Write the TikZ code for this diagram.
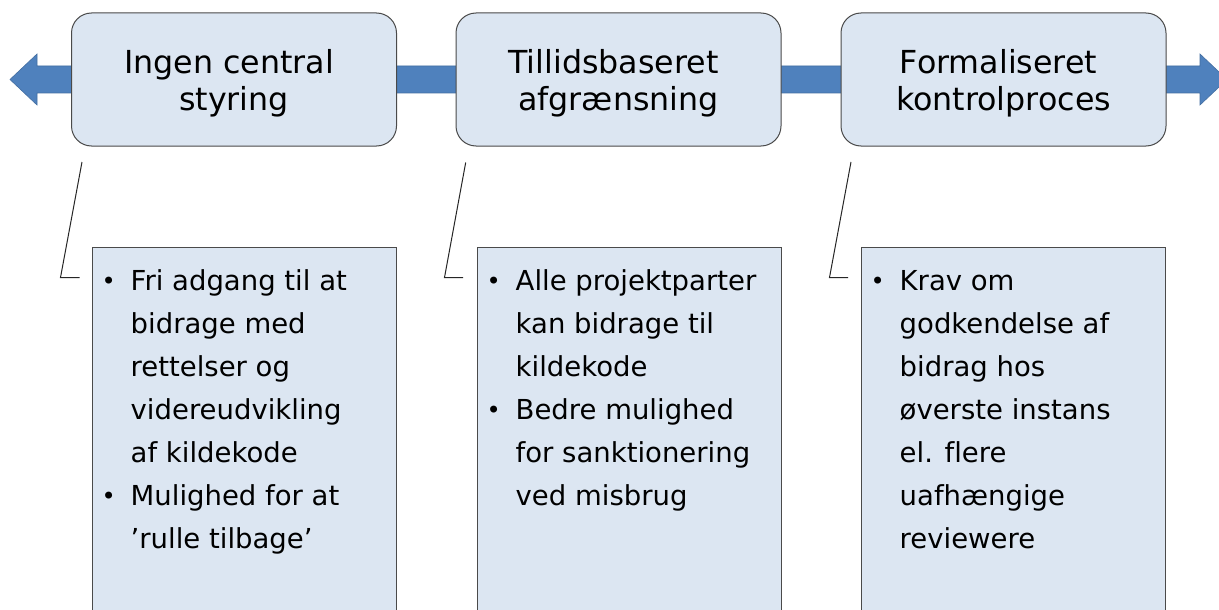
\documentclass[tikz,border=0pt]{standalone}
\usepackage{fontspec}
\setmainfont[Ligatures={NoCommon}]{DejaVu Sans}
\definecolor{boxfill}{HTML}{DCE6F2}
\definecolor{arrowblue}{HTML}{4F81BD}
\definecolor{boxline}{HTML}{4A4A4A}
\newcommand\mybul{\makebox[16.2pt][l]{\fontsize{24}{43}\selectfont\raisebox{1.3pt}{•}}}
\tikzset{
  bandarrow/.style={fill=arrowblue, draw=arrowblue!85!black, line width=0.6pt},
  topbox/.style={draw=boxline, line width=1pt, fill=boxfill, rounded corners=20pt,
    minimum width=325pt, minimum height=133pt, inner sep=0pt,
    text height=31pt, text depth=42pt, font=\fontsize{31.7}{37}\selectfont},
  botbox/.style={draw=boxline, line width=1pt, fill=boxfill, anchor=north west,
    inner xsep=9pt, inner ysep=0pt, text height=43pt, text depth=400pt,
    font=\fontsize{27.5}{43}\selectfont},
  conn/.style={draw=black!85, line width=1pt}
}
\begin{document}
\begin{tikzpicture}[x=1pt,y=-1pt]
\clip (0,0) rectangle (1219,610);
\fill[white] (0,0) rectangle (1219,610);
% band arrow
\path[bandarrow] (10,79.5) -- (37,54) -- (37,66) -- (1200,66) -- (1200,54) -- (1227,79.5)
  -- (1200,105) -- (1200,93) -- (37,93) -- (37,105) -- cycle;
% top boxes
\node[topbox] (t1) at (234,79.5) {\begin{tabular}[t]{@{}c@{}}Ingen central\kern10pt\\styring\end{tabular}};
\node[topbox] (t2) at (618.5,79.5) {\begin{tabular}[t]{@{}c@{}}Tillidsbaseret\kern10pt\\afgrænsning\end{tabular}};
\node[topbox] (t3) at (1003.5,79.5) {\begin{tabular}[t]{@{}c@{}}Formaliseret\kern10pt\\kontrolproces\end{tabular}};
% bottom boxes
\node[botbox] (b1) at (92,247) {\makebox[286pt][l]{\begin{tabular}[t]{@{}l@{\hspace{13pt}}l@{}}
  \mybul & Fri adgang til at\\
    & bidrage med\\
    & rettelser og\\
    & videreudvikling\\
    & af kildekode\\
  \mybul & Mulighed for at\\
    & ’rulle tilbage’
  \end{tabular}}};
\node[botbox] (b2) at (477,247) {\makebox[286pt][l]{\begin{tabular}[t]{@{}l@{\hspace{13pt}}l@{}}
  \mybul & Alle projektparter\\
    & kan bidrage til\\
    & kildekode\\
  \mybul & Bedre mulighed\\
    & for sanktionering\\
    & ved misbrug
  \end{tabular}}};
\node[botbox] (b3) at (861,247) {\makebox[286pt][l]{\begin{tabular}[t]{@{}l@{\hspace{13pt}}l@{}}
  \mybul & Krav om\\
    & godkendelse af\\
    & bidrag hos\\
    & øverste instans\\
    & el. flere\\
    & uafhængige\\
    & reviewere
  \end{tabular}}};
% connectors
\coordinate (k1s) at (82,162);   \coordinate (k1c) at (60.5,277.5);  \coordinate (k1e) at (79.5,277.5);
\coordinate (k2s) at (465.7,162.5); \coordinate (k2c) at (444.5,277.5); \coordinate (k2e) at (463,277.5);
\coordinate (k3s) at (851,162);  \coordinate (k3c) at (829.5,277.5); \coordinate (k3e) at (848,277.5);
\draw[conn] (k1s) -- (k1c) -- (k1e);
\draw[conn] (k2s) -- (k2c) -- (k2e);
\draw[conn] (k3s) -- (k3c) -- (k3e);
\end{tikzpicture}
\end{document}
